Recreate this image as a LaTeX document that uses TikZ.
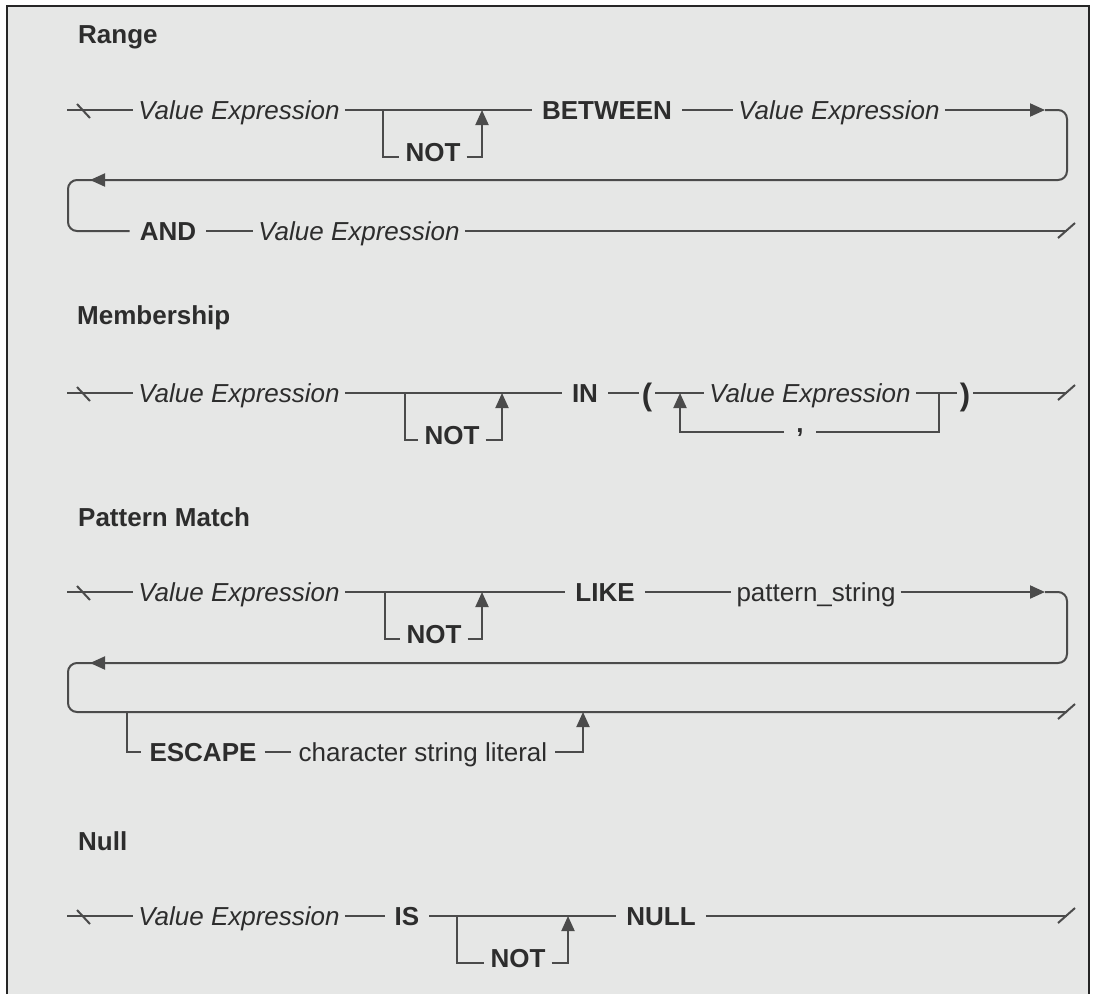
\documentclass[tikz,border=0pt]{standalone}
\usepackage{fontspec}
\setmainfont{Liberation Sans}
\usetikzlibrary{arrows.meta, positioning, calc}
\definecolor{railgray}{HTML}{4B4B4B}
\definecolor{inkgray}{HTML}{2D2D2D}
\definecolor{panelgray}{HTML}{E6E7E6}

\begin{document}
\begin{tikzpicture}[x=1pt, y=-1pt,
  ident/.style={font=\fontsize{26}{30}\selectfont\itshape, text=inkgray,
                inner xsep=5pt, inner ysep=0pt, text height=19pt, text depth=0pt},
  plain/.style={ident, font=\fontsize{26}{30}\selectfont},
  kw/.style={font=\fontsize{26}{30}\selectfont\bfseries, text=inkgray,
             inner xsep=10pt, inner ysep=0pt, text height=19pt, text depth=0pt},
  notkw/.style={kw, inner xsep=6pt, text height=14pt, text depth=5pt},
  paren/.style={font=\fontsize{31}{34}\selectfont\bfseries, text=inkgray,
                inner xsep=3pt, inner ysep=0pt, text height=24pt, text depth=0pt},
  heading/.style={font=\fontsize{26}{30}\selectfont\bfseries, text=inkgray,
                  anchor=west, inner sep=0pt},
  rail/.style={draw=railgray, line width=2pt},
  arr/.style={rail, -{Triangle[length=15pt, width=13pt]}},
  loop/.style={rail, rounded corners=9pt}
]
  \useasboundingbox (0,0) rectangle (1094,994);
  \fill[panelgray] (7,6) rectangle (1089,994);
  \draw[line width=2pt, draw=black!85] (7,994) -- (7,6) -- (1089,6) -- (1089,994);

  % Range
  \node[heading] (range) at (78,37) {Range};
  \coordinate (r-in) at (67,110);
  \node[ident] (r-val1) at (239,110) {Value Expression};
  \coordinate (r-s1) at (383,110);
  \coordinate (r-s2) at (482,110);
  \node[notkw] (r-not) at (433,157) {NOT};
  \node[kw] (r-betw) at (607,110) {BETWEEN};
  \node[ident] (r-val2) at (839,110) {Value Expression};
  \coordinate (r-a1) at (1045,110);
  \coordinate (r-c1) at (1067,110);
  \coordinate (r-c2) at (1067,180);
  \coordinate (r-c3) at (68,180);
  \coordinate (r-a2) at (90,180);
  \coordinate (r-c4) at (68,231);
  \node[kw] (r-and) at (168,231) {AND};
  \node[ident] (r-val3) at (359,231) {Value Expression};
  \coordinate (r-out) at (1067,231);

  \draw[rail] (r-in) -- (r-val1) -- (r-betw) -- (r-val2);
  \draw[rail] (r-s1) |- (r-not);
  \draw[arr] (r-not) -| (r-s2);
  \draw[arr] (r-val2) -- (r-a1);
  \draw[loop] (r-a1) -- (r-c1) -- (r-c2) -- (r-c3) -- (r-c4) -- (r-and);
  \draw[arr] ($(r-a2)+(40,0)$) -- (r-a2);
  \draw[rail] (r-and) -- (r-val3) -- (r-out);

  % Membership
  \node[heading] (member) at (77,318) {Membership};
  \coordinate (m-in) at (67,393);
  \node[ident] (m-val1) at (239,393) {Value Expression};
  \coordinate (m-s1) at (405,393);
  \coordinate (m-s2) at (502,393);
  \node[notkw] (m-not) at (452,440) {NOT};
  \node[kw] (m-in-kw) at (585,393) {IN};
  \node[paren] (m-lp) at (647,393) {(};
  \coordinate (m-j1) at (680,393);
  \node[ident] (m-val2) at (810,393) {Value Expression};
  \coordinate (m-j2) at (939,393);
  \node[kw, inner xsep=12pt, text height=4pt, text depth=4pt] (m-comma) at (800,432) {,};
  \node[paren] (m-rp) at (965,393) {)};
  \coordinate (m-out) at (1067,393);

  \draw[rail] (m-in) -- (m-val1) -- (m-in-kw) -- (m-lp) -- (m-val2) -- (m-rp) -- (m-out);
  \draw[rail] (m-s1) |- (m-not);
  \draw[arr] (m-not) -| (m-s2);
  \draw[rail] (m-j2) |- (m-comma);
  \draw[arr] (m-comma) -| (m-j1);

  % Pattern Match
  \node[heading] (pattern) at (78,517) {Pattern Match};
  \coordinate (p-in) at (67,592);
  \node[ident] (p-val1) at (239,592) {Value Expression};
  \coordinate (p-s1) at (385,592);
  \coordinate (p-s2) at (482,592);
  \node[notkw] (p-not) at (434,639) {NOT};
  \node[kw] (p-like) at (605,592) {LIKE};
  \node[plain] (p-str) at (816,592) {pattern\_string};
  \coordinate (p-a1) at (1045,592);
  \coordinate (p-c1) at (1067,592);
  \coordinate (p-c2) at (1067,663);
  \coordinate (p-c3) at (68,663);
  \coordinate (p-a2) at (90,663);
  \coordinate (p-c4) at (68,712);
  \coordinate (p-e1) at (127,712);
  \coordinate (p-e2) at (583,712);
  \coordinate (p-out) at (1067,712);
  \node[kw, inner xsep=8pt] (p-esc) at (203,752) {ESCAPE};
  \node[plain, inner xsep=8pt] (p-chr) at (423,752) {character string literal};

  \draw[rail] (p-in) -- (p-val1) -- (p-like) -- (p-str);
  \draw[rail] (p-s1) |- (p-not);
  \draw[arr] (p-not) -| (p-s2);
  \draw[arr] (p-str) -- (p-a1);
  \draw[loop] (p-a1) -- (p-c1) -- (p-c2) -- (p-c3) -- (p-c4) -- (p-out);
  \draw[arr] ($(p-a2)+(40,0)$) -- (p-a2);
  \draw[rail] (p-e1) |- (p-esc);
  \draw[rail] (p-esc) -- (p-chr);
  \draw[arr] (p-chr) -| (p-e2);

  % Null
  \node[heading] (null) at (78,841) {Null};
  \coordinate (n-in) at (67,916);
  \node[ident] (n-val1) at (239,916) {Value Expression};
  \node[kw] (n-is) at (407,916) {IS};
  \coordinate (n-s1) at (457,916);
  \coordinate (n-s2) at (568,916);
  \node[notkw] (n-not) at (518,963) {NOT};
  \node[kw] (n-null) at (661,916) {NULL};
  \coordinate (n-out) at (1067,916);

  \draw[rail] (n-in) -- (n-val1) -- (n-is) -- (n-null) -- (n-out);
  \draw[rail] (n-s1) |- (n-not);
  \draw[arr] (n-not) -| (n-s2);

  % entry and exit ticks
  \foreach \row in {r-in, m-in, p-in, n-in}
    \draw[rail] ($(\row)+(10,-6)$) -- ($(\row)+(23,8)$);
  \foreach \row in {r-out, m-out, p-out, n-out}
    \draw[rail] ($(\row)+(-9,7)$) -- ($(\row)+(8,-8)$);
\end{tikzpicture}
\end{document}
